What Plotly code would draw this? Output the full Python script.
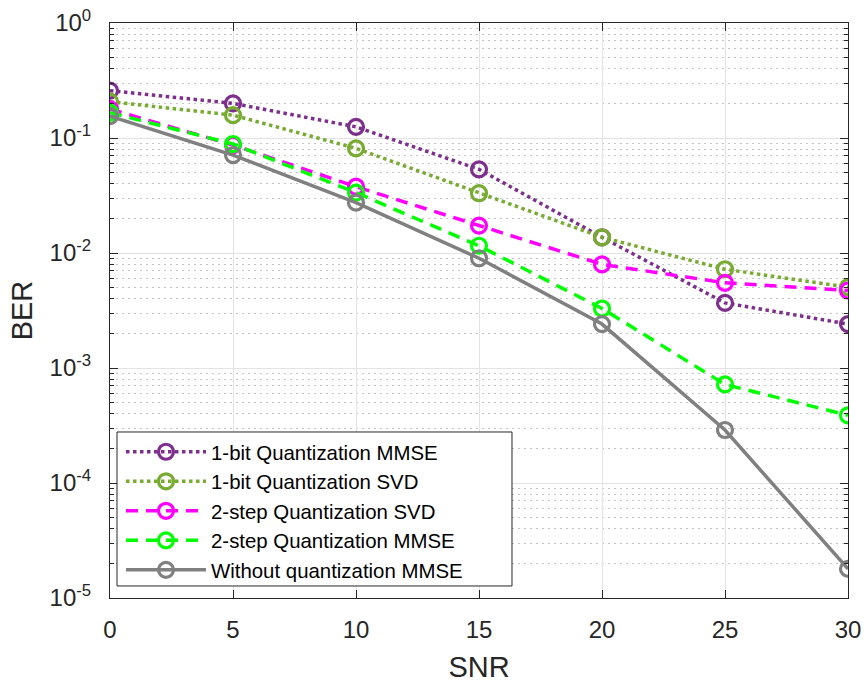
import plotly.graph_objects as go

snr = [0, 5, 10, 15, 20, 25, 30]
ber_1bit_mmse = [0.258, 0.200, 0.125, 0.0534, 0.0137, 0.00368, 0.00241]
ber_1bit_svd = [0.207, 0.158, 0.0813, 0.0331, 0.0137, 0.00722, 0.00505]
ber_2step_svd = [0.178, 0.0869, 0.0377, 0.0173, 0.00797, 0.0055, 0.00472]
ber_2step_mmse = [0.166, 0.0887, 0.0335, 0.01156, 0.00329, 0.00072, 0.000388]
ber_noquant = [0.155, 0.0711, 0.0274, 0.0090, 0.00241, 0.000289, 0.0000179]

names = ["1-bit Quantization MMSE", "1-bit Quantization SVD", "2-step Quantization SVD",
         "2-step Quantization MMSE", "Without quantization MMSE"]
series = [ber_1bit_mmse, ber_1bit_svd, ber_2step_svd, ber_2step_mmse, ber_noquant]
colors = ["#7E2F8E", "#77AC30", "#FF00FF", "#00FF00", "#808080"]
dashes = ["3.5px,3.5px", "3.5px,3.5px", "12px,8px", "12px,8px", "solid"]

y_tickvals = [1e-5, 1e-4, 1e-3, 1e-2, 1e-1, 1]
y_ticktext = ["10<sup>-5</sup>", "10<sup>-4</sup>", "10<sup>-3</sup>", "10<sup>-2</sup>",
              "10<sup>-1</sup>", "10<sup>0</sup>"]
minor_vals = [m * 10 ** e for e in range(-5, 0) for m in range(2, 10)]

fig = go.Figure()
for i, (name, ys, c, d) in enumerate(zip(names, series, colors, dashes)):
    fig.add_trace(go.Scatter(
        x=snr, y=ys, name=name, mode="lines+markers",
        line=dict(color=c, width=3.5, dash=d),
        marker=dict(symbol="circle-open", size=15, color=c, line=dict(width=3.2, color=c)),
    ))

axis_color = "#262626"

# legend frame (MATLAB-style box, wider than plotly's auto legend)
fig.add_shape(type="rect", xref="paper", yref="paper",
              x0=0.0095, x1=0.5447, y0=0.0209, y1=0.2887, layer="above",
              fillcolor="white", line=dict(color="#262626", width=1))

fig.update_layout(
    width=866, height=684,
    margin=dict(l=110, r=18, t=23, b=86),
    paper_bgcolor="white", plot_bgcolor="white",
    font=dict(family="Liberation Sans, Arial, sans-serif", color=axis_color, size=24),
    showlegend=True,
    legend=dict(
        x=0.0149, y=0.2887, xanchor="left", yanchor="top",
        bgcolor="rgba(0,0,0,0)", borderwidth=0,
        font=dict(size=20.4, color="black"), itemwidth=80,
    ),
    xaxis=dict(
        range=[0, 30], tickvals=snr, ticks="inside", ticklen=8, tickcolor=axis_color,
        showline=True, linecolor=axis_color, linewidth=1, mirror="ticks",
        showgrid=True, gridcolor="#e3e3e3", gridwidth=1, zeroline=False,
        title=dict(text="SNR", font=dict(size=29), standoff=14),
        tickfont=dict(size=24), ticklabelstandoff=10, ticklabeloverflow="allow",
        automargin=False,
    ),
    yaxis=dict(
        type="log", range=[-5, 0], tickvals=y_tickvals, ticktext=y_ticktext,
        ticks="inside", ticklen=8, tickcolor=axis_color,
        showline=True, linecolor=axis_color, linewidth=1, mirror="ticks",
        showgrid=True, gridcolor="#e3e3e3", gridwidth=1, zeroline=False,
        minor=dict(tickvals=minor_vals, ticks="inside", ticklen=4, tickcolor=axis_color,
                   showgrid=True, gridcolor="#c4c4c4", griddash="2px,4px", gridwidth=1),
        title=dict(text="BER", font=dict(size=29), standoff=8),
        tickfont=dict(size=24), ticklabelstandoff=13, ticklabeloverflow="allow",
        automargin=False,
    ),
)

fig.write_html("out.html", config={"displayModeBar": False},
               post_script="document.body.style.margin='0';document.body.style.overflow='hidden';")
